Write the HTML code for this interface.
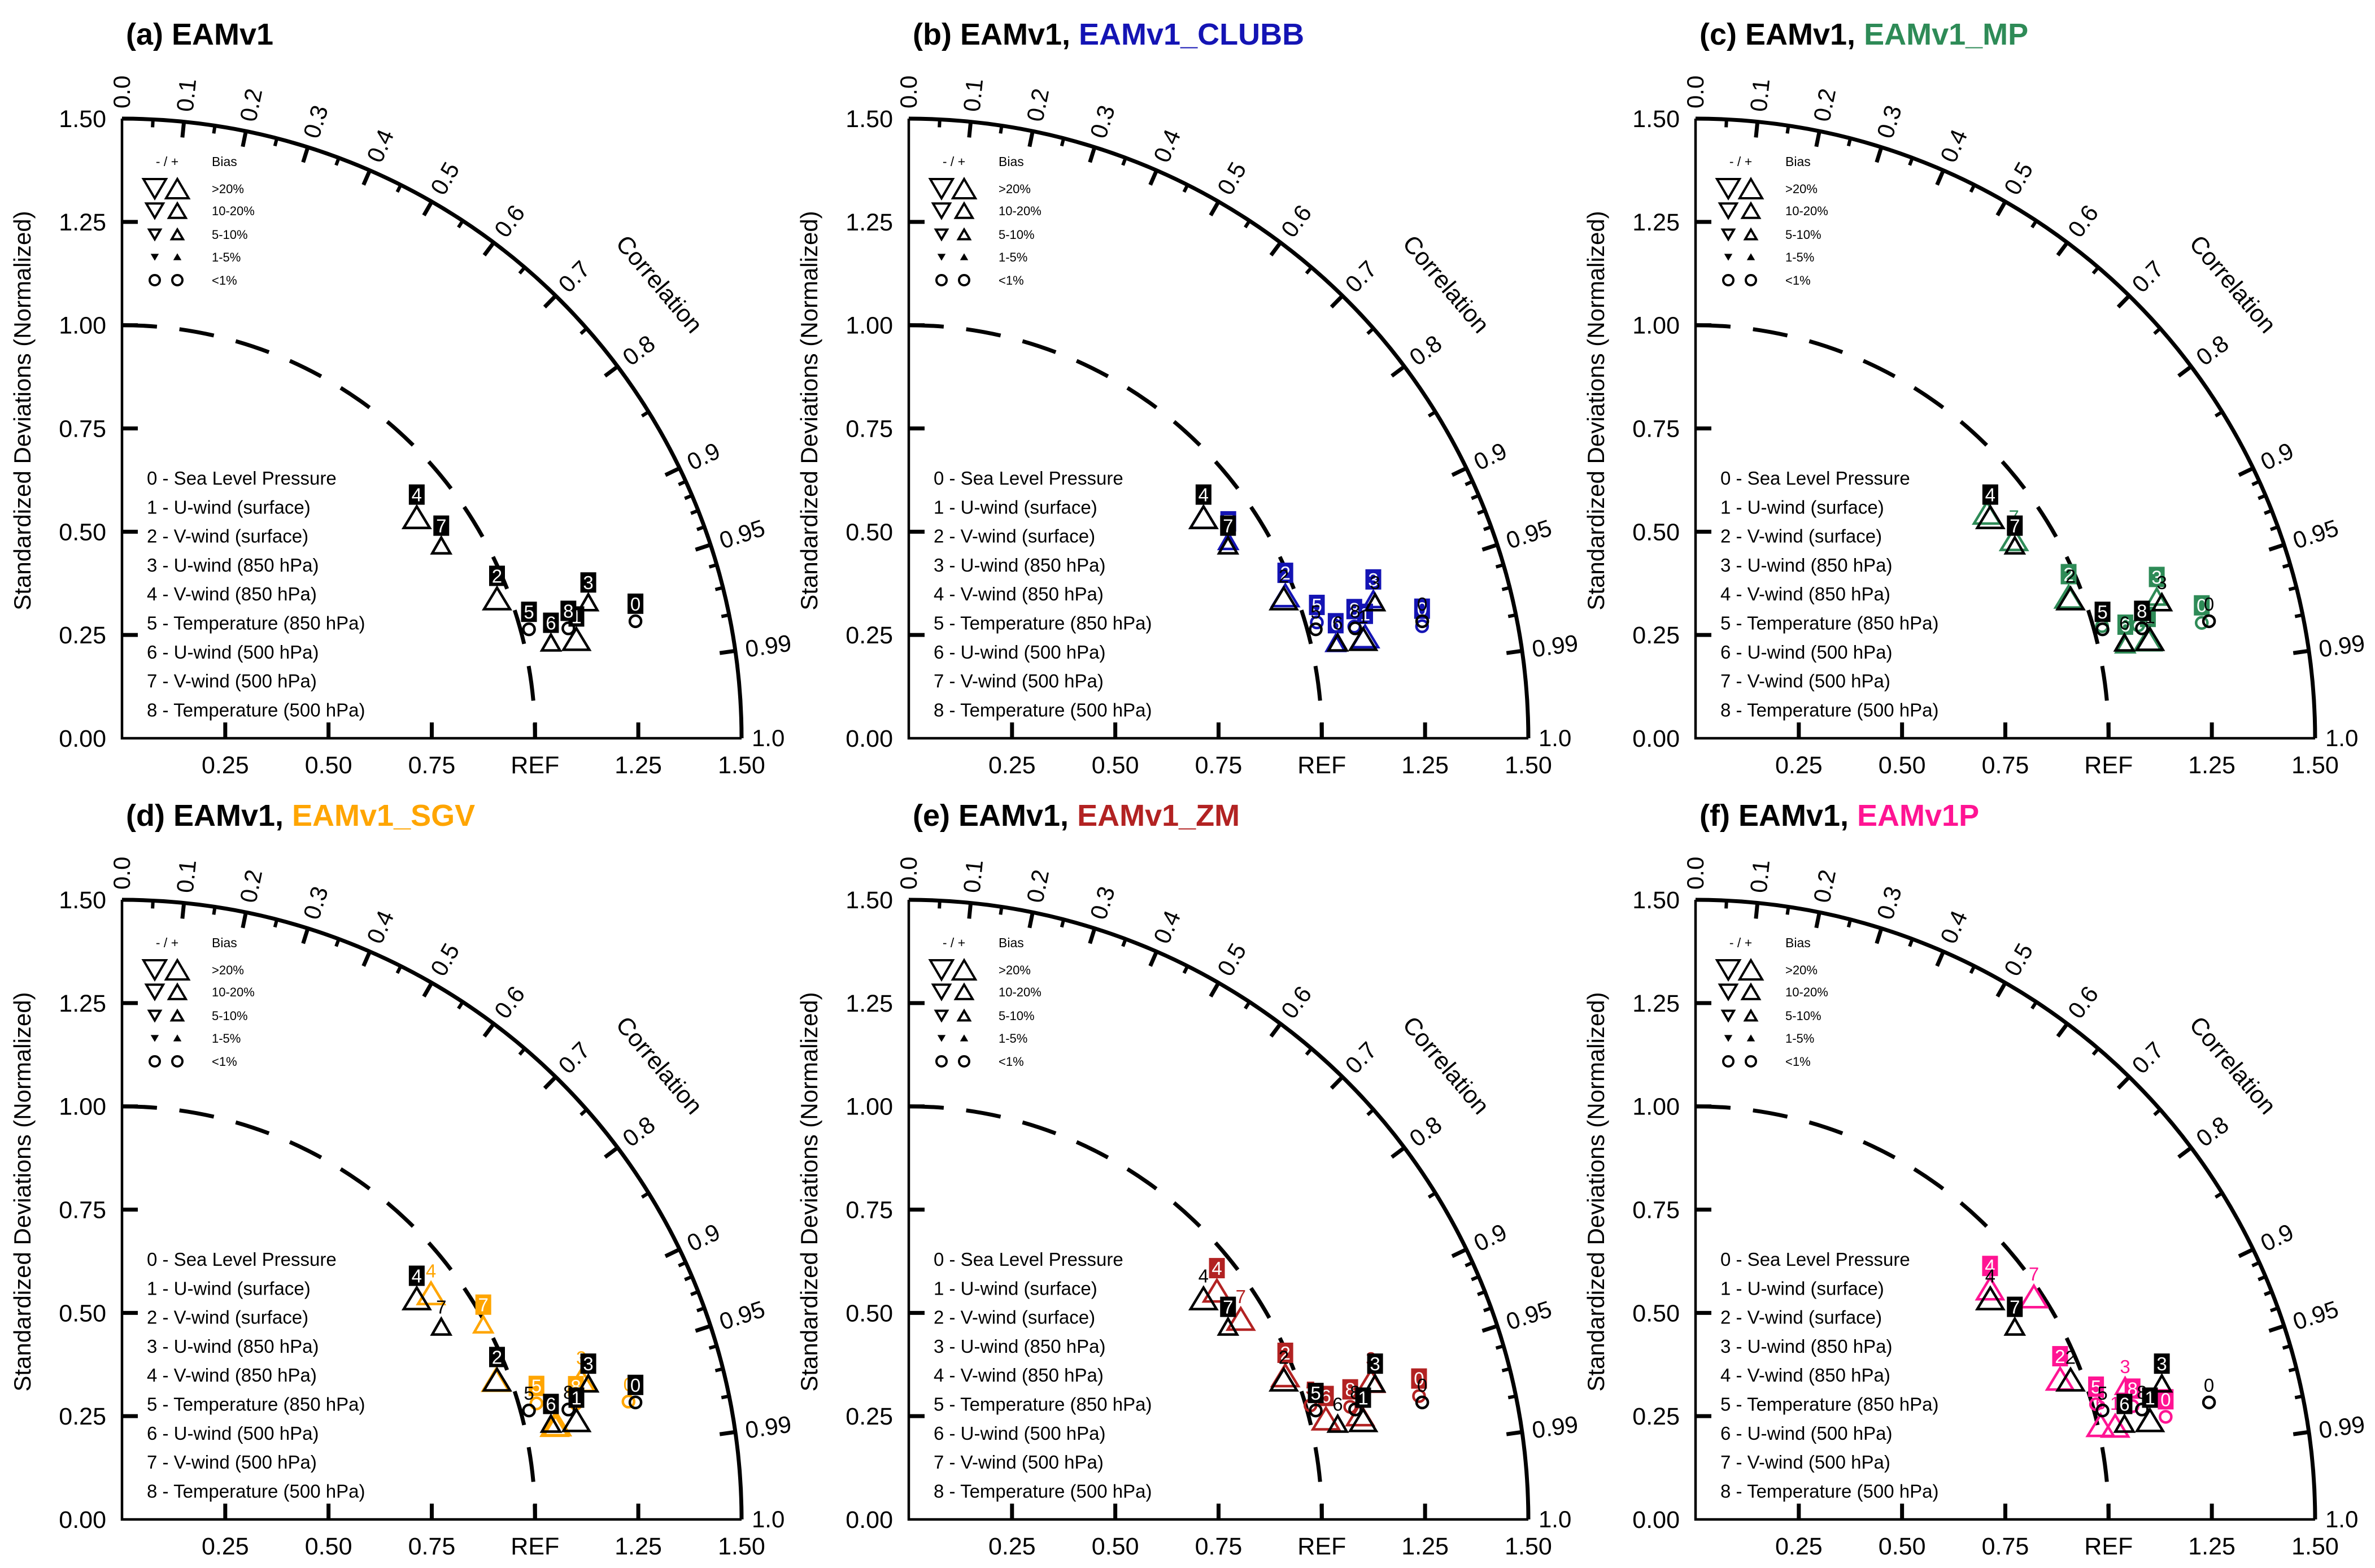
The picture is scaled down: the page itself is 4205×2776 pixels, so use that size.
<!DOCTYPE html>
<html><head><meta charset="utf-8">
<style>
html,body{margin:0;padding:0;background:#fff;}
svg{display:block;font-family:"Liberation Sans",Arial,sans-serif;}
</style></head>
<body>
<svg id="fig" xmlns="http://www.w3.org/2000/svg" width="4205" height="2776" viewBox="0 0 4205 2776"></svg>
<script>
// ---- data (index = variable 0..8) ----
const varNames = ["0 - Sea Level Pressure","1 - U-wind (surface)","2 - V-wind (surface)","3 - U-wind (850 hPa)","4 - V-wind (850 hPa)","5 - Temperature (850 hPa)","6 - U-wind (500 hPa)","7 - V-wind (500 hPa)","8 - Temperature (500 hPa)"];
const corrTicks = ["0.0","0.1","0.2","0.3","0.4","0.5","0.6","0.7","0.8","0.9","0.95","0.99","1.0"];
const stdTickLabels = ["0.00","0.25","0.50","0.75","1.00","1.25","1.50"];
const xTickLabels = ["0.25","0.50","0.75","REF","1.25","1.50"];
const xTickValues = [0.25,0.5,0.75,1.0,1.25,1.5];
const stdTickValues = [0,0.25,0.5,0.75,1.0,1.25,1.5];

const baseStd  = [1.275,1.126,0.969,1.176,0.892,1.020,1.064,0.903,1.113];
const baseCorr = [0.975,0.977,0.937,0.960,0.800,0.966,0.976,0.856,0.971];
const baseBias = ["C","L","L","M","L","C","M","M","C"];

const clubbStd  = [1.272,1.132,0.975,1.174,0.892,1.027,1.059,0.909,1.112];
const clubbCorr = [0.977,0.976,0.935,0.958,0.800,0.962,0.976,0.851,0.970];
const clubbBias = ["C","L","L","M","L","C","M","M","C"];

const mpStd  = [1.257,1.121,0.966,1.168,0.892,1.021,1.065,0.909,1.106];
const mpCorr = [0.975,0.977,0.935,0.956,0.791,0.964,0.977,0.848,0.969];
const mpBias = ["C","L","L","M","L","C","M","L","C"];

const sgvStd  = [1.259,1.072,0.966,1.162,0.927,1.042,1.078,0.994,1.134];
const sgvCorr = [0.974,0.977,0.937,0.957,0.807,0.963,0.977,0.880,0.969];
const sgvBias = ["C","L","L","L","L","C","L","M","C"];

const zmStd  = [1.271,1.122,0.976,1.168,0.929,1.011,1.039,0.939,1.103];
const zmCorr = [0.972,0.974,0.934,0.958,0.803,0.962,0.972,0.856,0.969];
const zmBias = ["C","L","L","L","L","C","L","L","C"];

const pStd  = [1.165,1.041,0.946,1.089,0.906,1.009,1.007,0.981,1.093];
const pCorr = [0.977,0.976,0.933,0.955,0.787,0.961,0.974,0.835,0.968];
const pBias = ["C","L","L","M","L","C","L","L","C"];

// label styles: B = boxed, P = plain, N = none
const labA_base = ["B","B","B","B","B","B","B","B","B"];
const labB_base = ["P","P","P","P","B","P","P","B","P"];
const labB_mod  = ["B","B","B","B","N","B","B","B","B"];
const labC_base = ["P","P","P","P","B","B","P","B","B"];
const labC_mod  = ["B","B","B","B","N","N","B","P","N"];
const labD_base = ["B","B","B","B","B","P","B","P","P"];
const labD_mod  = ["P","N","P","P","P","B","N","B","B"];
const labE_base = ["P","B","P","B","P","B","P","B","P"];
const labE_mod  = ["B","N","B","P","B","P","B","P","B"];
const labF_base = ["P","B","P","B","P","P","B","B","P"];
const labF_mod  = ["B","P","B","P","B","B","P","P","B"];

const panels = [
 {letter:"a",ox:216, oy:1307,name:null,color:null,std:null,corr:null,bias:null,lb:labA_base,lm:null},
 {letter:"b",ox:1609,oy:1307,name:"EAMv1_CLUBB",color:"#1414b4",std:clubbStd,corr:clubbCorr,bias:clubbBias,lb:labB_base,lm:labB_mod},
 {letter:"c",ox:3002,oy:1307,name:"EAMv1_MP",color:"#2e8b57",std:mpStd,corr:mpCorr,bias:mpBias,lb:labC_base,lm:labC_mod},
 {letter:"d",ox:216, oy:2690,name:"EAMv1_SGV",color:"#ffa500",std:sgvStd,corr:sgvCorr,bias:sgvBias,lb:labD_base,lm:labD_mod},
 {letter:"e",ox:1609,oy:2690,name:"EAMv1_ZM",color:"#b22222",std:zmStd,corr:zmCorr,bias:zmBias,lb:labE_base,lm:labE_mod},
 {letter:"f",ox:3002,oy:2690,name:"EAMv1P",color:"#ff1493",std:pStd,corr:pCorr,bias:pBias,lb:labF_base,lm:labF_mod}
];

const U = 731.3;
const R = 1.5*U;
const NS = "http://www.w3.org/2000/svg";
const svg = document.getElementById("fig");

function mk(tag, attrs, parent){
  const e = document.createElementNS(NS, tag);
  for (const k in attrs) e.setAttribute(k, attrs[k]);
  (parent||svg).appendChild(e);
  return e;
}
function pos(p, s, c){
  const th = Math.acos(Math.min(1,c));
  return [p.ox + s*U*Math.cos(th), p.oy - s*U*Math.sin(th)];
}

function drawMarker(g, p, s, c, bias, color, lab, idx, who){
  const [x,y] = pos(p,s,c);
  let top;
  if (bias === "C"){
    const m = mk("circle",{cx:x,cy:y,r:10,fill:"none",stroke:color,"stroke-width":4.5},g);
    
    
    top = y-12;
  } else {
    const w = bias==="L"?46:32, h = bias==="L"?38:28;
    const m = mk("polygon",{points:`${x-w/2},${y+h/2} ${x+w/2},${y+h/2} ${x},${y-h/2}`,fill:"none",stroke:color,"stroke-width":4.5,"stroke-linejoin":"miter"},g);
    
    
    top = y-h/2-2;
  }
  if (lab === "N") return;
  const cy = top-19;
  if (lab === "B"){
    const b = mk("rect",{x:x-14,y:cy-18,width:28,height:36,fill:color},g);
    
    
  }
  const t = mk("text",{x:x,y:cy+12,"font-size":33,"text-anchor":"middle",fill:lab==="B"?"#fff":color},g);
  t.textContent = String(idx);
  
  
}

panels.forEach(p=>{
  const g = mk("g",{});
  
  
  const {ox,oy} = p;

  const tt = mk("text",{x:ox+7,y:oy-1228,"font-size":54,"font-weight":"bold",fill:"#000"},g);
  
  
  const t1 = mk("tspan",{},tt);
  t1.textContent = "("+p.letter+") EAMv1" + (p.name?", ":"");
  if (p.name){
    const t2 = mk("tspan",{fill:p.color},tt);
    t2.textContent = p.name;
  }

  const ax = mk("path",{d:`M${ox},${oy-R} L${ox},${oy} L${ox+R},${oy}`,fill:"none",stroke:"#000","stroke-width":4.5},g);
  
  
  const arc = mk("path",{d:`M${ox},${oy-R} A${R},${R} 0 0 1 ${ox+R},${oy}`,fill:"none",stroke:"#000","stroke-width":7},g);
  
  
  const ref = mk("path",{d:`M${ox},${oy-U} A${U},${U} 0 0 1 ${ox+U},${oy}`,fill:"none",stroke:"#000","stroke-width":7,"stroke-dasharray":"62 40"},g);
  
  

  stdTickValues.forEach((v,i)=>{
    const y = oy - v*U;
    if (v>0 && v<1.5){
      const tk = mk("line",{x1:ox,y1:y,x2:ox+28,y2:y,stroke:"#000","stroke-width":7},g);
      
      
    }
    const tl = mk("text",{x:ox-28,y:y+15,"font-size":43,"text-anchor":"end"},g);
    tl.textContent = stdTickLabels[i];
    
    
  });
  xTickValues.forEach((v,i)=>{
    const x = ox + v*U;
    if (v<1.5){
      const tk = mk("line",{x1:x,y1:oy,x2:x,y2:oy-28,stroke:"#000","stroke-width":7},g);
      
      
    }
    const tl = mk("text",{x:x,y:oy+62,"font-size":43,"text-anchor":"middle"},g);
    tl.textContent = xTickLabels[i];
    
    
  });
  const yt = mk("text",{x:0,y:0,"font-size":42,"text-anchor":"middle",transform:`translate(${ox-162},${oy-580}) rotate(-90)`},g);
  yt.textContent = "Standardized Deviations (Normalized)";
  
  

  const minors = [0.05,0.15,0.25,0.35,0.45,0.55,0.65,0.75,0.85,0.91,0.92,0.93,0.94,0.96,0.97,0.98];
  minors.forEach(c=>{
    const th = Math.acos(c);
    const tk = mk("line",{x1:ox+R*Math.cos(th),y1:oy-R*Math.sin(th),x2:ox+(R-14)*Math.cos(th),y2:oy-(R-14)*Math.sin(th),stroke:"#000","stroke-width":6},g);
    
    
  });
  corrTicks.forEach(lbl=>{
    const c = parseFloat(lbl);
    const th = Math.acos(c);
    const deg = th*180/Math.PI;
    if (c>0 && c<1){
      const tk = mk("line",{x1:ox+R*Math.cos(th),y1:oy-R*Math.sin(th),x2:ox+(R-28)*Math.cos(th),y2:oy-(R-28)*Math.sin(th),stroke:"#000","stroke-width":7},g);
      
      
    }
    const rr = R+18;
    const tl = mk("text",{x:0,y:14,"font-size":42,transform:`translate(${ox+rr*Math.cos(th)},${oy-rr*Math.sin(th)}) rotate(${-deg})`},g);
    tl.textContent = lbl;
    
    
  });
  const cth = 40.2*Math.PI/180, cr = 1245;
  const ct = mk("text",{x:0,y:14,"font-size":43,"text-anchor":"middle",transform:`translate(${ox+cr*Math.cos(cth)},${oy-cr*Math.sin(cth)}) rotate(${90-40.2})`},g);
  ct.textContent = "Correlation";
  
  

  const lg = mk("g",{},g);
  
  
  const h1 = mk("text",{x:ox+80,y:oy-1013,"font-size":23,"text-anchor":"middle"},lg);
  h1.textContent = "- / +";
  const h2 = mk("text",{x:ox+159,y:oy-1013,"font-size":23},lg);
  h2.textContent = "Bias";
  const rows = [[">20%",40,false],["10-20%",30,false],["5-10%",20,false],["1-5%",11,true],["<1%",0,false]];
  const rowY = [-973,-934,-892,-852,-811];
  rows.forEach((r,i)=>{
    const y = oy+rowY[i];
    const dx = ox+58, ux = ox+98;
    if (r[1]>0){
      const w=r[1], h=r[1]*0.85;
      mk("polygon",{points:`${dx-w/2},${y-h/2} ${dx+w/2},${y-h/2} ${dx},${y+h/2}`,fill:r[2]?"#000":"none",stroke:"#000","stroke-width":r[2]?2:4},lg);
      mk("polygon",{points:`${ux-w/2},${y+h/2} ${ux+w/2},${y+h/2} ${ux},${y-h/2}`,fill:r[2]?"#000":"none",stroke:"#000","stroke-width":r[2]?2:4},lg);
    } else {
      mk("circle",{cx:dx,cy:y,r:9,fill:"none",stroke:"#000","stroke-width":4},lg);
      mk("circle",{cx:ux,cy:y,r:9,fill:"none",stroke:"#000","stroke-width":4},lg);
    }
    const t = mk("text",{x:ox+159,y:y+8,"font-size":22},lg);
    t.textContent = r[0];
  });

  varNames.forEach((n,i)=>{
    const t = mk("text",{x:ox+44,y:oy-461+i*51.3+12,"font-size":33},g);
    t.textContent = n;
    
    
  });

  if (p.std){
    for (let i=0;i<9;i++) drawMarker(g,p,p.std[i],p.corr[i],p.bias[i],p.color,p.lm[i],i,'model');
  }
  for (let i=0;i<9;i++) drawMarker(g,p,baseStd[i],baseCorr[i],baseBias[i],"#000",p.lb[i],i,'eamv1');
});
</script>
</body></html>
